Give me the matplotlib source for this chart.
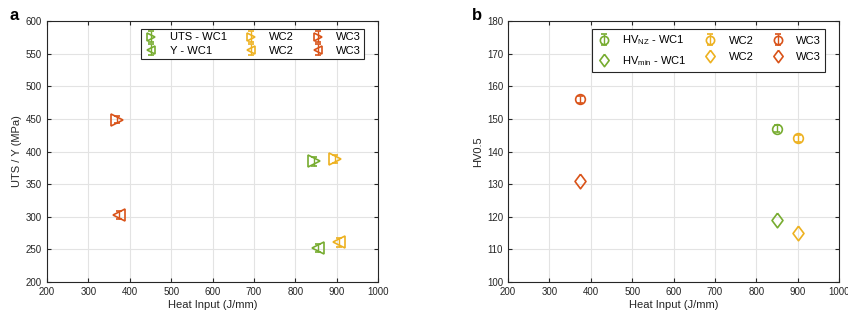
import numpy as np
import matplotlib.pyplot as plt

# MATLAB default colours
green = '#77AC30'
yellow = '#EDB120'
orange = '#D95319'
colors = [green, yellow, orange]

welds = ['WC1', 'WC2', 'WC3']
heat_uts = [845, 895, 370]
heat_y = [855, 905, 375]
uts = [385, 389, 449]
uts_err = [7, 6, 6]
ys = [252, 261, 303]
ys_err = [6, 7, 6]

heat_hv = [850, 900, 375]
hv_nz = [147, 144, 156]
hv_nz_err = [1, 1, 1]
hv_min = [119, 115, 131]

plt.rcParams['font.family'] = ['Liberation Sans', 'DejaVu Sans']
plt.rcParams['font.size'] = 7

# MATLAB-like diamond (taller than wide)
diamond = [(0, 1), (0.75, 0), (0, -1), (-0.75, 0), (0, 1)]

fig = plt.figure(figsize=(8.48, 3.2), dpi=100)
ax1 = fig.add_axes([47/848, 1-282/320, 331/848, 261/320])
ax2 = fig.add_axes([508/848, 1-282/320, 331/848, 261/320])

def style(ax, ylim, yticks):
    ax.set_xlim(200, 1000)
    ax.set_ylim(*ylim)
    ax.set_xticks(np.arange(200, 1001, 100))
    ax.set_yticks(yticks)
    ax.grid(True, color='#e3e3e3', lw=0.8)
    ax.set_axisbelow(True)
    ax.tick_params(direction='in', top=True, right=True, length=3,
                   colors='#262626', labelsize=7)
    for s in ax.spines.values():
        s.set_color('#262626')
        s.set_linewidth(0.8)
    ax.set_xlabel('Heat Input (J/mm)', fontsize=8, labelpad=2, color='#262626')

h1 = []
labs1 = []
for i in range(3):
    a = ax1.errorbar(heat_uts[i], uts[i], yerr=uts_err[i], fmt='>', color=colors[i],
                     mfc='none', ms=9, mew=1.2, capsize=2.5, elinewidth=1)
    b = ax1.errorbar(heat_y[i], ys[i], yerr=ys_err[i], fmt='<', color=colors[i],
                     mfc='none', ms=9, mew=1.2, capsize=2.5, elinewidth=1)
    h1 += [a, b]
    if i == 0:
        labs1 += ['UTS - ' + welds[i], 'Y - ' + welds[i]]
    else:
        labs1 += [welds[i], welds[i]]
style(ax1, (200, 600), np.arange(200, 601, 50))
ax1.set_ylabel('UTS / Y (MPa)', fontsize=8, labelpad=3, color='#262626')
leg1 = ax1.legend(h1, labs1, ncol=3, loc='upper right', bbox_to_anchor=(0.975, 0.99),
                  fancybox=False, edgecolor='#262626', framealpha=1, fontsize=8,
                  handlelength=1.3, columnspacing=1.5, borderpad=0.3,
                  labelspacing=0.3, handletextpad=1.0, markerscale=0.7)
leg1.get_frame().set_linewidth(0.8)

h2 = []
labs2 = []
for i in range(3):
    a = ax2.errorbar(heat_hv[i], hv_nz[i], yerr=hv_nz_err[i], fmt='o', color=colors[i],
                     mfc='none', ms=7, mew=1.2, capsize=2.5, elinewidth=1)
    b, = ax2.plot(heat_hv[i], hv_min[i], marker=diamond, ls='none', color=colors[i],
                  mfc='none', ms=10.5, mew=1.2)
    h2 += [a, b]
    if i == 0:
        labs2 += [r'HV$_{\mathregular{NZ}}$ - ' + welds[i],
                  r'HV$_{\mathregular{min}}$ - ' + welds[i]]
    else:
        labs2 += [welds[i], welds[i]]
style(ax2, (100, 180), np.arange(100, 181, 10))
ax2.set_ylabel('HV0.5', fontsize=8, labelpad=3, color='#262626')
leg2 = ax2.legend(h2, labs2, ncol=3, loc='upper right', bbox_to_anchor=(0.975, 0.99),
                  fancybox=False, edgecolor='#262626', framealpha=1, fontsize=8,
                  handlelength=1.3, columnspacing=1.5, borderpad=0.4,
                  labelspacing=0.6, handletextpad=1.0, markerscale=0.85)
leg2.get_frame().set_linewidth(0.8)

fig.text(10/848, 1-16/320, 'a', fontsize=12, fontweight='bold', va='center')
fig.text(472/848, 1-16/320, 'b', fontsize=12, fontweight='bold', va='center')

fig.savefig('out.png', dpi=100)
